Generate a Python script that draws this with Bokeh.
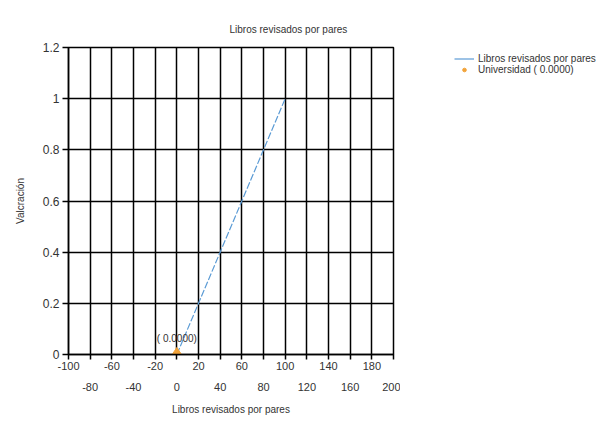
from bokeh.plotting import figure
from bokeh.layouts import row
from bokeh.models import (LinearAxis, FixedTicker, Range1d, Legend, LegendItem, Grid)
from bokeh.core.properties import value
from bokeh.embed import file_html
from bokeh.resources import INLINE

# ---- data ----
line_x = [0, 20, 40, 60, 80, 100]
line_y = [0, 0.2, 0.4, 0.6, 0.8, 1.0]
point_x = [0]
point_y = [0]
point_label = ["( 0.0000)"]
x_ticks = [-100, -80, -60, -40, -20, 0, 20, 40, 60, 80, 100, 120, 140, 160, 180, 200]
x_ticks_row1 = [-100, -60, -20, 20, 60, 100, 140, 180]
x_ticks_row2 = [-80, -40, 0, 40, 80, 120, 160, 200]
y_ticks = [0, 0.2, 0.4, 0.6, 0.8, 1.0, 1.2]
y_tick_labels = ["0", "0.2", "0.4", "0.6", "0.8", "1", "1.2"]
title_text = "Libros revisados por pares"
x_label = "Libros revisados por pares"
y_label = "Valcración"
series_name = "Libros revisados por pares"
point_name = "Universidad ( 0.0000)"

FONT = "Liberation Sans"
TXT = "#333333"
LINE_COLOR = "#5b9bd5"
PT_COLOR = "#f2a33a"

p = figure(width=400, height=420, x_range=Range1d(-100, 200), y_range=Range1d(0, 1.2),
           x_axis_type=None, output_backend="svg", toolbar_location=None,
           min_border_left=68, min_border_right=7, min_border_top=47, min_border_bottom=66,
           background_fill_color="white", border_fill_color="white")
p.outline_line_color = "black"
p.outline_line_width = 1.5

# title
p.title.text = title_text
p.title.align = "left"
p.title.offset = 161
p.title.text_font = FONT
p.title.text_font_size = "10px"
p.title.text_font_style = "normal"
p.title.text_color = TXT
p.title.standoff = 25

# grids
p.ygrid.ticker = FixedTicker(ticks=y_ticks)
p.ygrid.grid_line_color = "black"
p.ygrid.grid_line_width = 1.5
xgrid = Grid(dimension=0, ticker=FixedTicker(ticks=x_ticks), grid_line_color="black", grid_line_width=1.5)
p.add_layout(xgrid)

# y axis
ya = p.yaxis[0]
ya.ticker = FixedTicker(ticks=y_ticks)
ya.major_label_overrides = {t: l for t, l in zip(y_ticks, y_tick_labels)}
ya.axis_label = y_label
ya.axis_label_text_font = FONT
ya.axis_label_text_font_size = "10px"
ya.axis_label_text_font_style = "normal"
ya.axis_label_text_color = TXT
ya.major_label_text_font = FONT
ya.major_label_text_font_size = "12px"
ya.major_label_text_color = TXT
ya.major_tick_in = 0
ya.major_tick_out = 6
ya.major_label_standoff = 3
ya.axis_label_standoff = 14
ya.axis_line_color = "black"
ya.axis_line_width = 1.5
ya.major_tick_line_color = "black"
ya.major_tick_line_width = 1.5
ya.minor_tick_line_color = None

# x axis (two staggered label rows)
overrides1 = {t: (str(t) if t in x_ticks_row1 else "") for t in x_ticks}
overrides2 = {t: str(t) for t in x_ticks_row2}
xa1 = LinearAxis(ticker=FixedTicker(ticks=x_ticks), major_label_overrides=overrides1,
                 major_tick_in=0, major_tick_out=5, major_label_standoff=2,
                 axis_line_color="black", axis_line_width=1.5,
                 major_tick_line_color="black", major_tick_line_width=1.5,
                 minor_tick_line_color=None,
                 major_label_text_font=FONT, major_label_text_font_size="11px",
                 major_label_text_color=TXT)
xa2 = LinearAxis(ticker=FixedTicker(ticks=x_ticks_row2), major_label_overrides=overrides2,
                 major_tick_in=0, major_tick_out=0, major_label_standoff=10,
                 axis_line_color=None, major_tick_line_color=None, minor_tick_line_color=None,
                 major_label_text_font=FONT, major_label_text_font_size="11px",
                 major_label_text_color=TXT,
                 axis_label=x_label, axis_label_text_font=FONT, axis_label_text_font_size="10px",
                 axis_label_text_font_style="normal", axis_label_text_color=TXT,
                 axis_label_standoff=10)
p.add_layout(xa1, "below")
p.add_layout(xa2, "below")

# series
p.line(line_x, line_y, line_color=LINE_COLOR, line_width=1.2, line_dash="7 2")
p.scatter(point_x, point_y, marker="diamond", size=14, fill_color=PT_COLOR, line_color=PT_COLOR)
p.text(point_x, point_y, text=point_label, text_align="center", text_baseline="middle",
       y_offset=-16, text_font=value(FONT), text_font_size="10px", text_color=TXT)

# legend panel (its ranges keep the proxy glyphs out of view)
q = figure(width=210, height=420, x_range=Range1d(1000, 1001), y_range=Range1d(1000, 1001),
           x_axis_type=None, y_axis_type=None, output_backend="svg", toolbar_location=None,
           min_border_left=48, min_border_top=47, min_border_right=0, min_border_bottom=66,
           outline_line_color=None,
           background_fill_color="white", border_fill_color="white")
leg_line = q.line(line_x, line_y, line_color=LINE_COLOR, line_width=1.2)
leg_pt = q.scatter(point_x, point_y, marker="circle", size=6, fill_color=PT_COLOR, line_color=PT_COLOR)
legend = Legend(items=[LegendItem(label=series_name, renderers=[leg_line]),
                       LegendItem(label=point_name, renderers=[leg_pt])],
                location="top_left", border_line_color=None, background_fill_alpha=0,
                label_text_font=FONT, label_text_font_size="10px", label_text_color=TXT,
                glyph_width=20, glyph_height=9, label_height=9, spacing=-3, padding=0,
                margin=6, label_standoff=4)
q.add_layout(legend)

layout = row(p, q, spacing=0)
open("out.html", "w").write(file_html(layout, INLINE))
